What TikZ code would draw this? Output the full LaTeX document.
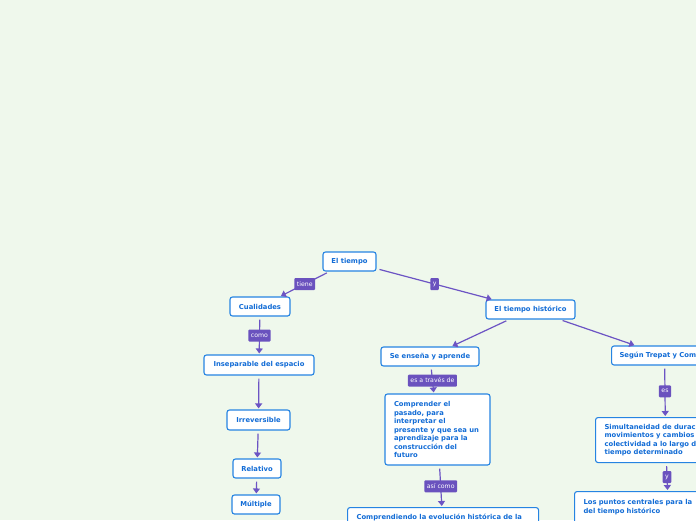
\documentclass[tikz,border=0pt]{standalone}
\usepackage{fontspec}
\setmainfont{DejaVu Sans}
\usetikzlibrary{arrows.meta}
\definecolor{bgc}{RGB}{239,248,236}
\definecolor{nodeblue}{RGB}{38,132,226}
\definecolor{textblue}{RGB}{18,108,214}
\definecolor{lblpurple}{RGB}{106,82,190}
\definecolor{linepurple}{RGB}{108,84,196}
\tikzset{
  topic/.style={draw=nodeblue, line width=1.1pt, fill=white, rounded corners=2.5pt,
    font=\fontsize{6.8}{8.5}\selectfont\bfseries, text=textblue, inner sep=0pt,
    minimum height=19pt, align=center},
  longtopic/.style={topic, align=left, inner xsep=9pt, anchor=north west},
  lbl/.style={fill=lblpurple, text=white, font=\fontsize{6.2}{7}\selectfont,
    inner xsep=2.5pt, inner ysep=0pt, minimum height=12pt, rounded corners=1pt},
  conn/.style={draw=linepurple, line width=1.2pt,
    -{Triangle[length=5pt,width=7pt]}, shorten <=3pt, shorten >=1pt}
}
\begin{document}
\begin{tikzpicture}[x=1pt,y=-1pt]
\useasboundingbox (0,0) rectangle (696,520);
\fill[bgc] (0,0) rectangle (696,520);
\clip (0,0) rectangle (696,520);
% left branch
\node[topic, minimum width=53pt] (tiempo) at (349.5,261.5) {El tiempo};
\node[topic, minimum width=60pt] (cual) at (260,306.5) {Cualidades};
\node[topic, minimum width=110pt, minimum height=20pt] (insep) at (259,365) {Inseparable del espacio};
\node[topic, minimum width=63pt, minimum height=20pt] (irrev) at (258.5,420) {Irreversible};
\node[topic, minimum width=48pt] (rel) at (257,468.5) {Relativo};
\node[topic, minimum width=48pt] (mult) at (256,504.5) {Múltiple};
% right branch
\node[topic, minimum width=89pt] (th) at (530.5,309.5) {El tiempo histórico};
\node[topic, minimum width=98pt] (ens) at (430,356.5) {Se enseña y aprende};
\node[topic, align=left, inner xsep=8pt, text width=90pt, anchor=west] (trepat) at (611,355.5) {Según Trepat y Com};
\node[topic, align=left, inner xsep=9pt, text width=87pt, minimum height=71pt] (comp) at (437.5,429.5)
  {Comprender el\\pasado, para\\interpretar el\\presente y que sea un\\aprendizaje para la\\construcción del\\futuro};
\node[longtopic, text width=173pt, inner ysep=7pt, text depth=22pt] (compd) at (347,507)
  {Comprendiendo la evolución histórica de la};
\node[longtopic, text width=122pt, minimum height=45pt] (sim) at (595,417)
  {Simultaneidad de durac\\movimientos y cambios\\colectividad a lo largo d\\tiempo determinado};
\node[longtopic, text width=170pt, inner ysep=8pt, text depth=24pt] (puntos) at (574,491)
  {Los puntos centrales para la\\del tiempo histórico};
% connectors
\draw[conn] (tiempo) -- node[lbl]{tiene} (cual);
\draw[conn] (tiempo) -- node[lbl]{y} (th);
\draw[conn] (cual) -- node[lbl]{como} (insep);
\draw[conn] (insep) -- (irrev);
\draw[conn] (irrev) -- (rel);
\draw[conn] (rel) -- (mult);
\draw[conn] (th) -- (ens);
\draw[conn] (th) -- (trepat);
\draw[conn] (ens) -- node[lbl, pos=0.52]{es a través de} (comp);
\draw[conn] (comp) -- node[lbl]{así como} (compd);
\draw[conn] (trepat) -- node[lbl]{es} (sim);
\draw[conn] (sim) -- node[lbl]{y} (puntos);
\end{tikzpicture}
\end{document}
